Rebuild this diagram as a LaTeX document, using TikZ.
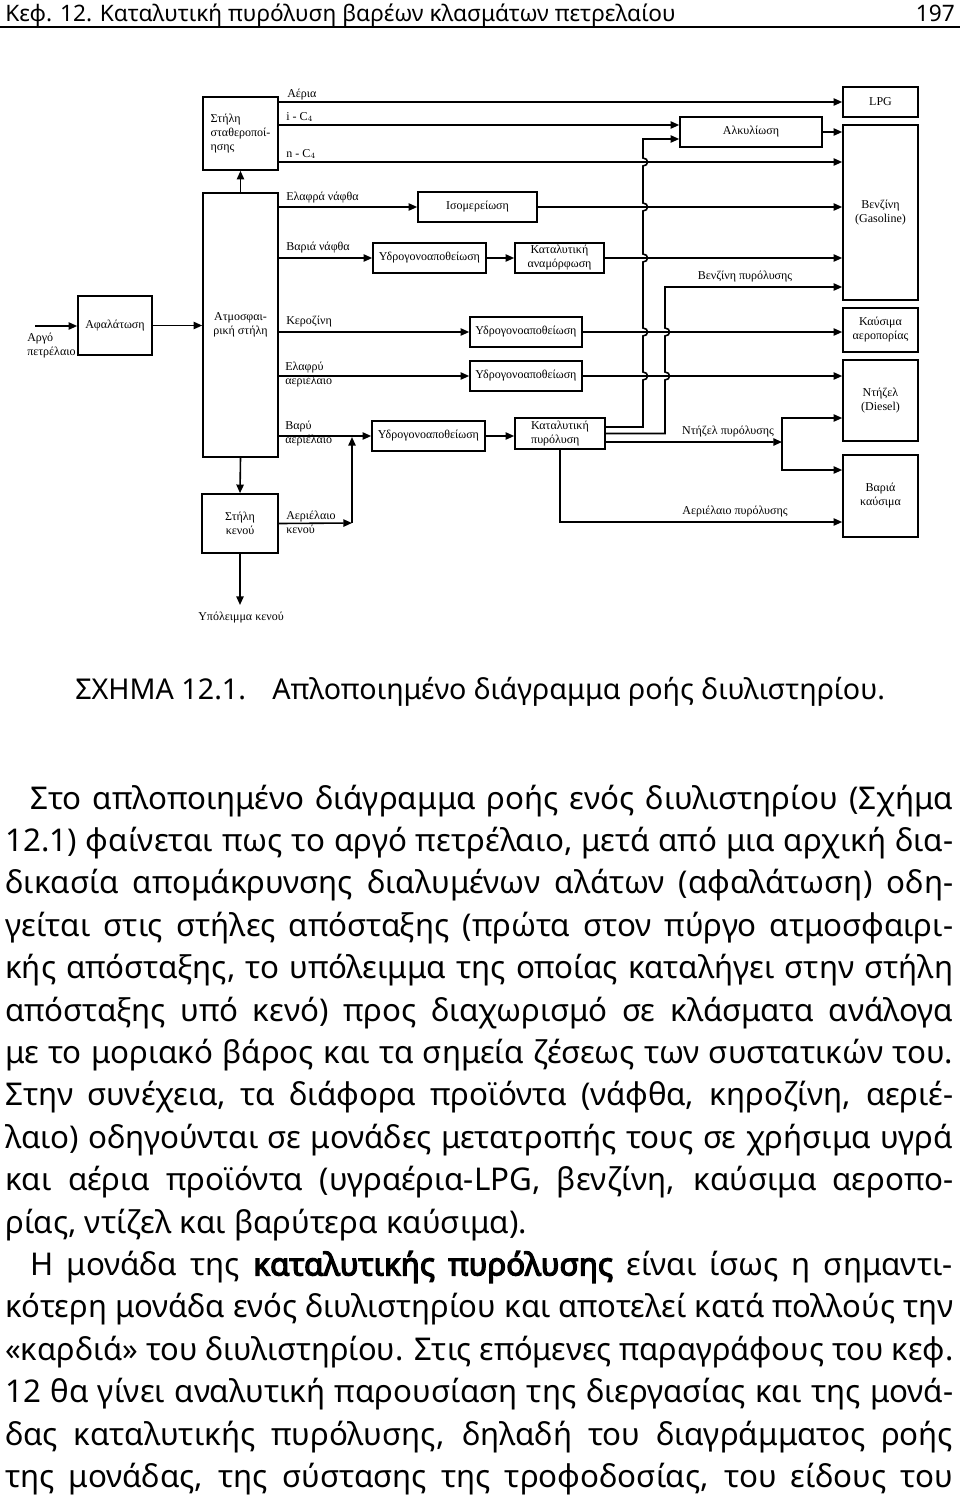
\documentclass[tikz,border=0pt]{standalone}
\usepackage{graphicx}
\usepackage{fontspec}
\setmainfont{Noto Sans}[AutoFakeBold=4]
\newfontfamily\diagfont{Liberation Serif}
\usetikzlibrary{arrows.meta}

\tikzset{
  unit/.style={draw, line width=1.2pt, inner sep=1pt, align=center,
    font=\diagfont\fontsize{9}{10.5}\selectfont},
  lbl/.style={inner sep=0pt, align=left, font=\diagfont\fontsize{9}{10.5}\selectfont},
  flow/.style={line width=1.2pt, -{Triangle[length=6.5pt,width=5.5pt]}},
  txtline/.style={anchor=base west, inner sep=0pt, font=\fontsize{23.5}{28}\selectfont}
}
\newsavebox\linebox
\newcommand{\fitline}[2]{\sbox\linebox{#2}%
  \ifdim\wd\linebox>#1\relax\resizebox{#1}{\height}{\usebox\linebox}\else\makebox[#1][s]{#2}\fi}
\newcommand{\fullline}[1]{\fitline{711pt}{#1}}

\begin{document}
\begin{tikzpicture}[x=0.75pt,y=-0.75pt]
    \useasboundingbox (0,0) rectangle (960,1496);

    % Page header
    \node[anchor=base west, inner sep=0pt, font=\fontsize{17}{20}\selectfont] (head) at (5,21)
      {Κεφ. 12. Καταλυτική πυρόλυση βαρέων κλασμάτων πετρελαίου};
    \node[anchor=base east, inner sep=0pt, font=\fontsize{17}{20}\selectfont] (page) at (955,21) {197};
    \draw[line width=1.5pt] (0,27) -- (960,27);

    % Units
    \node[unit, minimum width=56.25pt, minimum height=54.75pt, align=left] (stab) at (240.5,133.5)
      {Στήλη\\σταθεροποί-\\ησης};
    \node[unit, minimum width=56.25pt, minimum height=198pt] (atm) at (240.5,325) {Ατμοσφαι-\\ρική στήλη};
    \node[unit, minimum width=55.5pt, minimum height=44.25pt] (desalt) at (115,325.5) {Αφαλάτωση};
    \node[unit, minimum width=57pt, minimum height=44.25pt] (vac) at (240,523.5) {Στήλη\\κενού};

    \node[unit, minimum width=89.25pt, minimum height=22.5pt] (isom) at (477.5,207) {Ισομερείωση};
    \node[unit, minimum width=84.75pt, minimum height=22.5pt] (hds1) at (429.5,258) {Υδρογονοαποθείωση};
    \node[unit, minimum width=66.75pt, minimum height=22.5pt] (ref) at (559.5,258) {Καταλυτική\\αναμόρφωση};
    \node[unit, minimum width=84pt, minimum height=22.5pt] (hds2) at (526,332) {Υδρογονοαποθείωση};
    \node[unit, minimum width=84pt, minimum height=22.5pt] (hds3) at (526,376) {Υδρογονοαποθείωση};
    \node[unit, minimum width=84.75pt, minimum height=22.5pt] (hds4) at (428.5,436) {Υδρογονοαποθείωση};
    \node[unit, minimum width=67.5pt, minimum height=23.25pt, align=left] (cc) at (560,433.5) {Καταλυτική\\πυρόλυση};
    \node[unit, minimum width=106.5pt, minimum height=22.5pt] (alky) at (751,132) {Αλκυλίωση};

    % Products
    \node[unit, minimum width=56.25pt, minimum height=22.5pt] (lpg) at (880.5,102) {LPG};
    \node[unit, minimum width=56.25pt, minimum height=131.25pt] (gas) at (880.5,212.5) {Βενζίνη\\(Gasoline)};
    \node[unit, minimum width=56.25pt, minimum height=33pt] (jet) at (880.5,330) {Καύσιμα\\αεροπορίας};
    \node[unit, minimum width=56.25pt, minimum height=60.75pt] (diesel) at (880.5,400.5) {Ντήζελ\\(Diesel)};
    \node[unit, minimum width=56.25pt, minimum height=61.5pt] (heavy) at (880.5,496) {Βαριά\\καύσιμα};

    % Free ends and junctions
    \coordinate (crude) at (35,326);
    \coordinate (vacres) at (240,605);
    \coordinate (vgo) at (352,523);
    \coordinate (hgo) at (352,437);
    \coordinate (split) at (782,442);

    % Crude and distillation
    \draw[flow] (crude) -- (desalt.west |- crude);
    \draw[flow] (desalt.east) -- (atm.west |- desalt.east);
    \draw[flow] (atm.north) -- (stab.south);
    \draw[flow] (atm.south) -- (vac.north);
    \draw[flow] (vac.south) -- (vacres);
    \draw[flow] (vac.east) -- (vgo);
    \draw[flow] (vgo) -- (hgo);

    % Stabilizer products
    \draw[flow] (stab.east |- lpg) -- (lpg.west);
    \draw[flow] (stab.east |- 0,125) -- (alky.west |- 0,125);
    \draw[flow] (stab.east |- 0,162) -- (gas.west |- 0,162);
    \draw[flow] (alky.east) -- (gas.west |- alky.east);

    % Naphtha
    \draw[flow] (atm.east |- isom) -- (isom.west);
    \draw[flow] (isom.east) -- (gas.west |- isom.east);
    \draw[flow] (atm.east |- hds1) -- (hds1.west);
    \draw[flow] (hds1.east) -- (ref.west);
    \draw[flow] (ref.east) -- (gas.west |- ref.east);

    % Middle distillates
    \draw[flow] (atm.east |- hds2) -- (hds2.west);
    \draw[flow] (hds2.east) -- (jet.west |- hds2.east);
    \draw[flow] (atm.east |- hds3) -- (hds3.west);
    \draw[flow] (hds3.east) -- (diesel.west |- hds3.east);
    \draw[flow] (atm.east |- hds4) -- (hds4.west);
    \draw[flow] (hds4.east) -- (cc.west |- hds4.east);

    % Cracker products (verticals hop over the crossings)
    \draw[flow] ([yshift=4.9pt]cc.east) -- (643,427)
      \foreach \y in {376,332,258,207,162} { -- (643,\y+4) .. controls +(6,0) and +(6,0) .. (643,\y-4) }
      -- (643,139) -- (alky.west |- 0,139);
    \draw[flow] (cc.east) -- (665,433.5)
      \foreach \y in {376,332} { -- (665,\y+4) .. controls +(6,0) and +(6,0) .. (665,\y-4) }
      -- (665,287) -- (gas.west |- 0,287);
    \draw[flow] ([yshift=-6.4pt]cc.east) -- (split);
    \draw[flow] (split) |- (diesel.west |- 0,418);
    \draw[flow] (split) |- (heavy.west |- 0,470);
    \draw[flow] (cc.south) |- (heavy.west |- 0,522);

    % Stream labels
    \node[lbl, anchor=west] (lAer) at (287,95) {Αέρια};
    \node[lbl, anchor=west] (lIC) at (286,117) {i - C$_4$};
    \node[lbl, anchor=west] (lNC) at (286,154) {n - C$_4$};
    \node[lbl, anchor=west] (lLN) at (286,198) {Ελαφρά νάφθα};
    \node[lbl, anchor=west] (lHN) at (286,248) {Βαριά νάφθα};
    \node[lbl, anchor=west] (lKer) at (286,322) {Κεροζίνη};
    \node[lbl, anchor=west] (lLGO) at (285,375) {Ελαφρύ\\αεριέλαιο};
    \node[lbl, anchor=west] (lHGO) at (285,434) {Βαρύ\\αεριέλαιο};
    \node[lbl, anchor=west] (lVGO) at (286,522) {Αεριέλαιο\\κενού};
    \node[lbl, anchor=north west] (lCrude) at (27,333) {Αργό\\πετρέλαιο};
    \node[lbl, anchor=north] (lRes) at (241,612) {Υπόλειμμα κενού};
    \node[lbl] (lCG) at (745,277) {Βενζίνη πυρόλυσης};
    \node[lbl] (lCD) at (728,432) {Ντήζελ πυρόλυσης};
    \node[lbl] (lCGO) at (735,512) {Αεριέλαιο πυρόλυσης};

    % Caption
    \node[txtline, font=\fontsize{21.5}{26}\selectfont] (capA) at (75,699) {ΣΧΗΜΑ 12.1.};
    \node[txtline, font=\fontsize{21.5}{26}\selectfont] (capB) at (272,699) {Απλοποιημένο διάγραμμα ροής διυλιστηρίου.};

    % Body text
    \node[txtline] (t1) at (30,809) {\fitline{692pt}{Στο απλοποιημένο διάγραμμα ροής ενός διυλιστηρίου (Σχήμα}};
    \node[txtline] (t2) at (5,851.4) {\fullline{12.1) φαίνεται πως το αργό πετρέλαιο, μετά από μια αρχική δια-}};
    \node[txtline] (t3) at (5,893.8) {\fullline{δικασία απομάκρυνσης διαλυμένων αλάτων (αφαλάτωση) οδη-}};
    \node[txtline] (t4) at (5,936.2) {\fullline{γείται στις στήλες απόσταξης (πρώτα στον πύργο ατμοσφαιρι-}};
    \node[txtline] (t5) at (5,978.6) {\fullline{κής απόσταξης, το υπόλειμμα της οποίας καταλήγει στην στήλη}};
    \node[txtline] (t6) at (5,1021) {\fullline{απόσταξης υπό κενό) προς διαχωρισμό σε κλάσματα ανάλογα}};
    \node[txtline] (t7) at (5,1063.4) {\fullline{με το μοριακό βάρος και τα σημεία ζέσεως των συστατικών του.}};
    \node[txtline] (t8) at (5,1105.8) {\fullline{Στην συνέχεια, τα διάφορα προϊόντα (νάφθα, κηροζίνη, αεριέ-}};
    \node[txtline] (t9) at (5,1148.2) {\fullline{λαιο) οδηγούνται σε μονάδες μετατροπής τους σε χρήσιμα υγρά}};
    \node[txtline] (t10) at (5,1190.6) {\fullline{και αέρια προϊόντα (υγραέρια-LPG, βενζίνη, καύσιμα αεροπο-}};
    \node[txtline] (t11) at (5,1233) {ρίας, ντίζελ και βαρύτερα καύσιμα).};
    \node[txtline] (t12) at (30,1275.4) {\fitline{692pt}{Η μονάδα της \textbf{καταλυτικής πυρόλυσης} είναι ίσως η σημαντι-}};
    \node[txtline] (t13) at (5,1317.8) {\fullline{κότερη μονάδα ενός διυλιστηρίου και αποτελεί κατά πολλούς την}};
    \node[txtline] (t14) at (5,1360.2) {\fullline{«καρδιά» του διυλιστηρίου. Στις επόμενες παραγράφους του κεφ.}};
    \node[txtline] (t15) at (5,1402.6) {\fullline{12 θα γίνει αναλυτική παρουσίαση της διεργασίας και της μονά-}};
    \node[txtline] (t16) at (5,1445) {\fullline{δας καταλυτικής πυρόλυσης, δηλαδή του διαγράμματος ροής}};
    \node[txtline] (t17) at (5,1487.4) {\fullline{της μονάδας, της σύστασης της τροφοδοσίας, του είδους του}};
\end{tikzpicture}
\end{document}
